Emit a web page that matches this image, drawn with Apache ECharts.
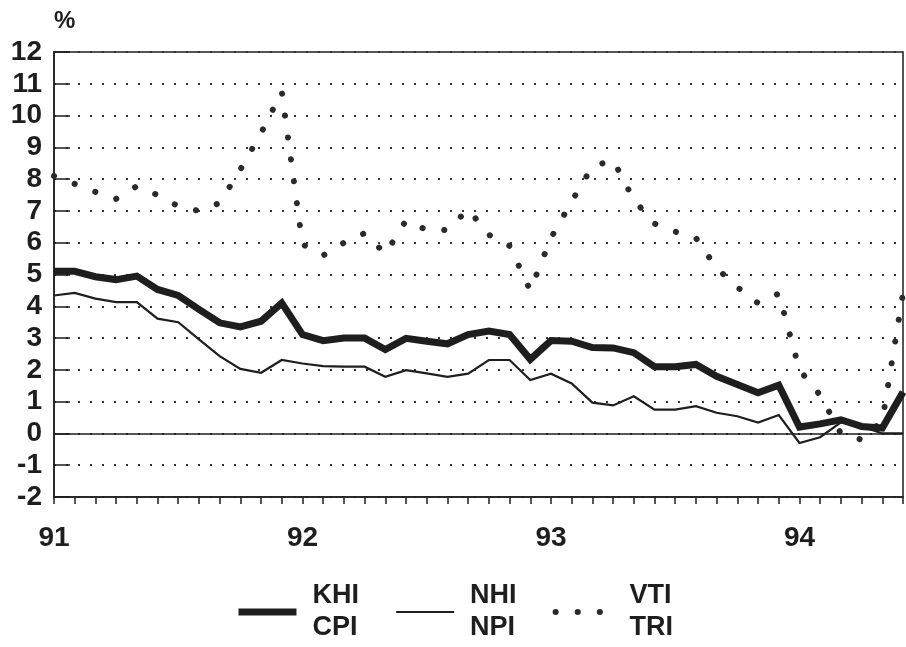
<!DOCTYPE html>
<html>
<head>
<meta charset="utf-8">
<script src="https://cdn.jsdelivr.net/npm/echarts@6/dist/echarts.min.js"></script>
<style>
  html, body { margin: 0; padding: 0; background: #fff; }
  #chart { width: 906px; height: 647px; }
</style>
</head>
<body>
<div id="chart"></div>
<script>
// monthly points, Jan 91 .. Jun 94
var months = ('91-01 91-02 91-03 91-04 91-05 91-06 91-07 91-08 91-09 91-10 91-11 91-12 ' +
  '92-01 92-02 92-03 92-04 92-05 92-06 92-07 92-08 92-09 92-10 92-11 92-12 ' +
  '93-01 93-02 93-03 93-04 93-05 93-06 93-07 93-08 93-09 93-10 93-11 93-12 ' +
  '94-01 94-02 94-03 94-04 94-05 94-06').split(' ');

var seriesNames = ['KHI\nCPI', 'NHI\nNPI', 'VTI\nTRI'];

var khi = [5.1, 5.1, 4.93, 4.84, 4.95, 4.53, 4.34, 3.9, 3.48, 3.35, 3.53, 4.1,
  3.11, 2.92, 3.0, 3.0, 2.64, 2.99, 2.9, 2.82, 3.11, 3.22, 3.11, 2.33,
  2.92, 2.9, 2.7, 2.69, 2.54, 2.1, 2.1, 2.17, 1.8, 1.54, 1.28, 1.52,
  0.2, 0.3, 0.43, 0.22, 0.17, 1.3];

var nhi = [4.34, 4.42, 4.24, 4.13, 4.13, 3.61, 3.5, 2.96, 2.43, 2.03, 1.91, 2.31,
  2.2, 2.12, 2.1, 2.1, 1.78, 1.99, 1.89, 1.78, 1.88, 2.31, 2.31, 1.68,
  1.88, 1.57, 0.97, 0.88, 1.17, 0.75, 0.75, 0.86, 0.65, 0.54, 0.34, 0.58,
  -0.3, -0.12, 0.35, 0.22, 0.0, 0.0];

var vti = [8.1, 7.85, 7.6, 7.38, 7.78, 7.5, 7.15, 7.0, 7.25, 8.3, 9.45, 10.75,
  5.95, 5.6, 6.0, 6.3, 5.65, 6.7, 6.4, 6.4, 7.05, 6.25, 5.9, 4.5,
  6.15, 7.3, 8.4, 8.6, 7.35, 6.6, 6.35, 6.15, 5.2, 4.6, 4.1, 4.4,
  2.0, 1.2, 0.0, -0.2, 0.4, 4.4];

var yearLabels = { '91-01': '91', '92-01': '92', '93-01': '93', '94-01': '94' };

var ink = '#1e1e1e';
var font = 'Liberation Sans';

var chart = echarts.init(document.getElementById('chart'));

var option = {
  animation: false,
  title: {
    text: '%',
    left: 54,
    top: 9,
    padding: 0,
    textStyle: { fontFamily: font, fontWeight: 'bold', fontSize: 24, color: ink }
  },
  legend: {
    data: [seriesNames[0], seriesNames[1], seriesNames[2]],
    left: 235,
    top: 580,
    padding: 0,
    itemWidth: 58,
    itemHeight: 14,
    itemGap: 36,
    itemStyle: { opacity: 0 },
    lineStyle: { width: 'inherit' },
    textStyle: {
      fontFamily: font, fontWeight: 'bold', fontSize: 27, lineHeight: 32,
      color: ink, padding: [0, 0, 0, 11]
    }
  },
  grid: {
    left: 54, right: 1, top: 52, bottom: 150,
    show: true, borderColor: ink, borderWidth: 1.5
  },
  xAxis: {
    type: 'category',
    data: months,
    boundaryGap: false,
    axisLine: { onZero: false, lineStyle: { color: ink, width: 1.5 } },
    axisTick: { show: true, interval: 0, length: 7, lineStyle: { color: ink, width: 1.5 } },
    axisLabel: {
      interval: 0, margin: 27,
      fontFamily: font, fontWeight: 'bold', fontSize: 28, color: ink,
      formatter: function (v) { return yearLabels[v] || ''; }
    },
    splitLine: { show: false }
  },
  yAxis: {
    type: 'value',
    min: -2, max: 12, interval: 1,
    axisLine: { show: true, lineStyle: { color: ink, width: 1.5 } },
    axisTick: { show: true, inside: true, length: 16, lineStyle: { color: ink, width: 1.5 } },
    axisLabel: {
      margin: 12,
      fontFamily: font, fontWeight: 'bold', fontSize: 28, color: ink
    },
    splitLine: { show: true, lineStyle: { color: '#333', width: 2, type: [2, 10] } }
  },
  series: [
    {
      name: seriesNames[2],
      type: 'line',
      data: vti,
      symbol: 'none',
      itemStyle: { color: '#2a2a2a' },
      lineStyle: { color: '#2a2a2a', width: 6, type: [0.1, 22], cap: 'round' },
      markLine: {
        silent: true,
        symbol: 'none',
        label: { show: false },
        lineStyle: { color: ink, width: 1.5, type: 'solid' },
        data: [{ yAxis: 0 }]
      }
    },
    {
      name: seriesNames[1],
      type: 'line',
      data: nhi,
      symbol: 'none',
      itemStyle: { color: ink },
      lineStyle: { color: ink, width: 2.2, join: 'miter' }
    },
    {
      name: seriesNames[0],
      type: 'line',
      data: khi,
      symbol: 'none',
      itemStyle: { color: ink },
      lineStyle: { color: ink, width: 7, join: 'miter' }
    }
  ]
};

chart.setOption(option);
</script>
</body>
</html>
